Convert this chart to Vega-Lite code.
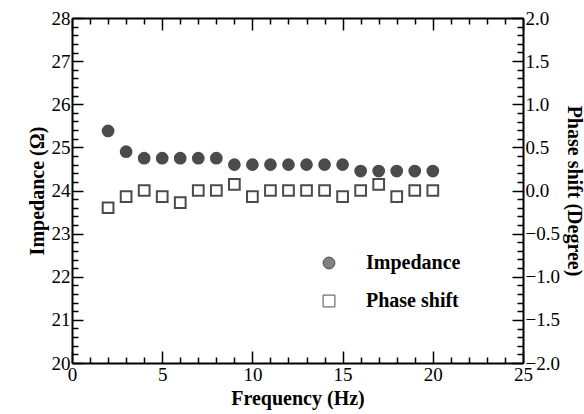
{
  "$schema": "https://vega.github.io/schema/vega-lite/v6.json",
  "width": 451,
  "height": 345,
  "autosize": {"type": "none"},
  "padding": {"left": 72, "top": 18, "right": 61, "bottom": 51},
  "background": "white",
  "config": {
    "view": {"stroke": null},
    "axis": {
      "grid": false,
      "labelFontSize": 19,
      "labelColor": "black",
      "titleFontSize": 20,
      "titleFontWeight": "bold",
      "titleColor": "black",
      "domainColor": "black",
      "domainWidth": 2,
      "tickColor": "black",
      "tickWidth": 1.5,
      "labelFlush": false,
      "labelOverlap": false
    },
    "legend": {
      "orient": "none",
      "legendX": 247,
      "legendY": 235,
      "padding": 0,
      "labelFont": "serif",
      "labelFontSize": 20,
      "labelFontWeight": "bold",
      "labelColor": "black",
      "symbolSize": 140,
      "symbolStrokeColor": "black",
      "symbolStrokeWidth": 1,
      "labelOffset": 27,
      "rowPadding": 18,
      "title": null
    }
  },
  "data": {"values": [
    {"f": 2, "series": "Impedance", "v": 25.38},
    {"f": 3, "series": "Impedance", "v": 24.9},
    {"f": 4, "series": "Impedance", "v": 24.75},
    {"f": 5, "series": "Impedance", "v": 24.75},
    {"f": 6, "series": "Impedance", "v": 24.75},
    {"f": 7, "series": "Impedance", "v": 24.75},
    {"f": 8, "series": "Impedance", "v": 24.75},
    {"f": 9, "series": "Impedance", "v": 24.6},
    {"f": 10, "series": "Impedance", "v": 24.6},
    {"f": 11, "series": "Impedance", "v": 24.6},
    {"f": 12, "series": "Impedance", "v": 24.6},
    {"f": 13, "series": "Impedance", "v": 24.6},
    {"f": 14, "series": "Impedance", "v": 24.6},
    {"f": 15, "series": "Impedance", "v": 24.6},
    {"f": 16, "series": "Impedance", "v": 24.45},
    {"f": 17, "series": "Impedance", "v": 24.45},
    {"f": 18, "series": "Impedance", "v": 24.45},
    {"f": 19, "series": "Impedance", "v": 24.45},
    {"f": 20, "series": "Impedance", "v": 24.45},
    {"f": 2, "series": "Phase shift", "v": -0.2},
    {"f": 3, "series": "Phase shift", "v": -0.07},
    {"f": 4, "series": "Phase shift", "v": 0},
    {"f": 5, "series": "Phase shift", "v": -0.07},
    {"f": 6, "series": "Phase shift", "v": -0.14},
    {"f": 7, "series": "Phase shift", "v": 0},
    {"f": 8, "series": "Phase shift", "v": 0},
    {"f": 9, "series": "Phase shift", "v": 0.07},
    {"f": 10, "series": "Phase shift", "v": -0.07},
    {"f": 11, "series": "Phase shift", "v": 0},
    {"f": 12, "series": "Phase shift", "v": 0},
    {"f": 13, "series": "Phase shift", "v": 0},
    {"f": 14, "series": "Phase shift", "v": 0},
    {"f": 15, "series": "Phase shift", "v": -0.07},
    {"f": 16, "series": "Phase shift", "v": 0},
    {"f": 17, "series": "Phase shift", "v": 0.07},
    {"f": 18, "series": "Phase shift", "v": -0.07},
    {"f": 19, "series": "Phase shift", "v": 0},
    {"f": 20, "series": "Phase shift", "v": 0}
  ]},
  "layer": [
    {
      "transform": [{"filter": "datum.series === 'Impedance'"}],
      "mark": {"type": "point", "filled": true, "size": 115},
      "encoding": {
        "x": {"field": "f", "type": "quantitative", "scale": {"domain": [0, 25], "nice": false, "zero": false},
          "axis": {"orient": "bottom", "values": [0, 5, 10, 15, 20, 25], "ticks": false, "domain": false,
            "labelFont": "serif", "titleFont": "serif", "title": "Frequency (Hz)"}},
        "y": {"field": "v", "type": "quantitative", "scale": {"domain": [20, 28], "nice": false, "zero": false},
          "axis": {"orient": "left", "values": [20, 21, 22, 23, 24, 25, 26, 27, 28], "ticks": false, "domain": false,
            "labelFont": "serif", "titleFont": "serif", "title": "Impedance (Ω)"}},
        "shape": {"field": "series", "type": "nominal", "scale": {"domain": ["Impedance", "Phase shift"], "range": ["circle", "square"]}},
        "fill": {"field": "series", "type": "nominal", "scale": {"domain": ["Impedance", "Phase shift"], "range": ["black", "white"]}},
        "stroke": {"field": "series", "type": "nominal", "scale": {"domain": ["Impedance", "Phase shift"], "range": ["black", "black"]}}
      }
    },
    {
      "transform": [{"filter": "datum.series === 'Phase shift'"}],
      "mark": {"type": "point", "filled": true, "size": 115},
      "encoding": {
        "x": {"field": "f", "type": "quantitative", "scale": {"domain": [0, 25], "nice": false, "zero": false},
          "axis": {"orient": "top", "values": [0, 5, 10, 15, 20, 25], "tickSize": -12, "labels": false, "title": null}},
        "y": {"field": "v", "type": "quantitative", "scale": {"domain": [-2, 2], "nice": false, "zero": false},
          "axis": {"orient": "right", "values": [-2, -1.5, -1, -0.5, 0, 0.5, 1, 1.5, 2], "ticks": false, "domain": false,
            "labelFont": "serif", "titleFont": "serif", "title": "Phase shift (Degree)"}},
        "shape": {"field": "series", "type": "nominal", "scale": {"domain": ["Impedance", "Phase shift"], "range": ["circle", "square"]}},
        "fill": {"field": "series", "type": "nominal", "scale": {"domain": ["Impedance", "Phase shift"], "range": ["black", "white"]}},
        "stroke": {"field": "series", "type": "nominal", "scale": {"domain": ["Impedance", "Phase shift"], "range": ["black", "black"]}}
      }
    },
    {
      "transform": [{"filter": "datum.series === 'Impedance'"}],
      "mark": {"type": "point", "opacity": 0},
      "encoding": {
        "x": {"field": "f", "type": "quantitative", "scale": {"domain": [0, 25], "nice": false, "zero": false},
          "axis": {"orient": "bottom", "values": [0, 5, 10, 15, 20, 25], "tickSize": -12, "labels": false, "title": null}},
        "y": {"field": "v", "type": "quantitative", "scale": {"domain": [20, 28], "nice": false, "zero": false},
          "axis": {"orient": "left", "values": [20, 21, 22, 23, 24, 25, 26, 27, 28], "tickSize": -11, "labels": false, "title": null}}
      }
    },
    {
      "transform": [{"filter": "datum.series === 'Impedance'"}],
      "mark": {"type": "point", "opacity": 0},
      "encoding": {
        "x": {"field": "f", "type": "quantitative", "scale": {"domain": [0, 25], "nice": false, "zero": false},
          "axis": {"orient": "bottom", "values": [1,2,3,4,6,7,8,9,11,12,13,14,16,17,18,19,21,22,23,24], "tickSize": -6, "domain": false, "labels": false, "title": null}},
        "y": {"field": "v", "type": "quantitative", "scale": {"domain": [20, 28], "nice": false, "zero": false},
          "axis": {"orient": "left", "values": [20.2,20.4,20.6,20.8,21.2,21.4,21.6,21.8,22.2,22.4,22.6,22.8,23.2,23.4,23.6,23.8,24.2,24.4,24.6,24.8,25.2,25.4,25.6,25.8,26.2,26.4,26.6,26.8,27.2,27.4,27.6,27.8], "tickSize": -6, "domain": false, "labels": false, "title": null}}
      }
    },
    {
      "transform": [{"filter": "datum.series === 'Phase shift'"}],
      "mark": {"type": "point", "opacity": 0},
      "encoding": {
        "x": {"field": "f", "type": "quantitative", "scale": {"domain": [0, 25], "nice": false, "zero": false},
          "axis": {"orient": "top", "values": [1,2,3,4,6,7,8,9,11,12,13,14,16,17,18,19,21,22,23,24], "tickSize": -6, "domain": false, "labels": false, "title": null}},
        "y": {"field": "v", "type": "quantitative", "scale": {"domain": [-2, 2], "nice": false, "zero": false},
          "axis": {"orient": "right", "values": [-2, -1.5, -1, -0.5, 0, 0.5, 1, 1.5, 2], "tickSize": -11, "labels": false, "title": null}}
      }
    },
    {
      "transform": [{"filter": "datum.series === 'Phase shift'"}],
      "mark": {"type": "point", "opacity": 0},
      "encoding": {
        "x": {"field": "f", "type": "quantitative", "scale": {"domain": [0, 25], "nice": false, "zero": false}, "axis": null},
        "y": {"field": "v", "type": "quantitative", "scale": {"domain": [-2, 2], "nice": false, "zero": false},
          "axis": {"orient": "right", "values": [-1.9,-1.8,-1.7,-1.6,-1.4,-1.3,-1.2,-1.1,-0.9,-0.8,-0.7,-0.6,-0.4,-0.3,-0.2,-0.1,0.1,0.2,0.3,0.4,0.6,0.7,0.8,0.9,1.1,1.2,1.3,1.4,1.6,1.7,1.8,1.9], "tickSize": -6, "domain": false, "labels": false, "title": null}}
      }
    }
  ],
  "resolve": {"scale": {"y": "independent"}, "axis": {"x": "independent", "y": "independent"}}
}
